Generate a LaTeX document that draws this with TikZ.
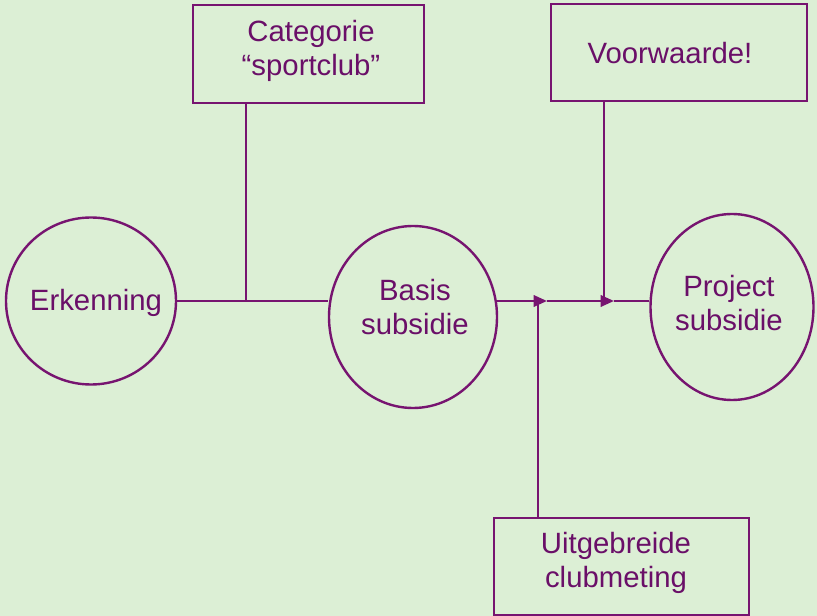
\documentclass[tikz,border=0pt]{standalone}
\usepackage{fontspec}
\setmainfont{Liberation Sans}
\usetikzlibrary{shapes.geometric,arrows.meta}
\definecolor{bgc}{HTML}{DCEFD5}
\definecolor{linec}{HTML}{771470}
\definecolor{textc}{HTML}{6A0F68}
\tikzset{
  lin/.style={draw=linec,line width=1.8pt},
  oval/.style={ellipse,lin,inner sep=0pt},
  boxn/.style={rectangle,lin,inner sep=0pt},
  txt/.style={font=\fontsize{22}{25}\selectfont,text=textc,align=center,inner sep=0pt},
  arr/.style={lin,-{Triangle[length=10pt,width=8.5pt]}}
}
\begin{document}
\begin{tikzpicture}[x=0.75pt,y=-0.75pt]
\fill[bgc] (0,0) rectangle (817,616);
\useasboundingbox (0,0) rectangle (817,616);
% ellipses
\node[oval,minimum width=127.5pt,minimum height=125.25pt] (erk) at (91,301) {};
\node[txt] (erkt) at (96,303) {Erkenning};
\node[oval,minimum width=126pt,minimum height=136.5pt] (bas) at (413,317) {};
\node[txt] (bast) at (415,307) {Basis\\subsidie};
\node[oval,minimum width=122.25pt,minimum height=139.5pt] (proj) at (732,307) {};
\node[txt] (projt) at (729,303) {Project\\subsidie};
% boxes
\node[boxn,minimum width=173.25pt,minimum height=73.5pt] (cat) at (308.5,54) {};
\node[txt] (catt) at (311,51) {Categorie\\“sportclub”};
\node[boxn,minimum width=192pt,minimum height=72.75pt] (voor) at (679,52.5) {};
\node[txt] (voort) at (670,53) {Voorwaarde!};
\node[boxn,minimum width=191.25pt,minimum height=72.75pt] (uit) at (621.5,566.5) {};
\node[txt] (uitt) at (616,563) {Uitgebreide\\clubmeting};
% junction coordinates
\coordinate (j1) at (246,301);
\coordinate (b1) at (496,301);
\coordinate (a1) at (547,301);
\coordinate (a2) at (614,301);
\coordinate (j2) at (538,301);
\coordinate (j3) at (604,301);
% connectors
\draw[lin] (erk.east) -- (erk.east -| bas.west);
\draw[lin] (j1 |- cat.south) -- (j1);
\draw[arr] (b1) -- (a1);
\draw[arr] (a1) -- (a2);
\draw[lin] (a2) -- (a2 -| proj.west);
\draw[lin] (j2 |- uit.north) -- (j2);
\draw[lin] (j3 |- voor.south) -- (j3);
\end{tikzpicture}
\end{document}
